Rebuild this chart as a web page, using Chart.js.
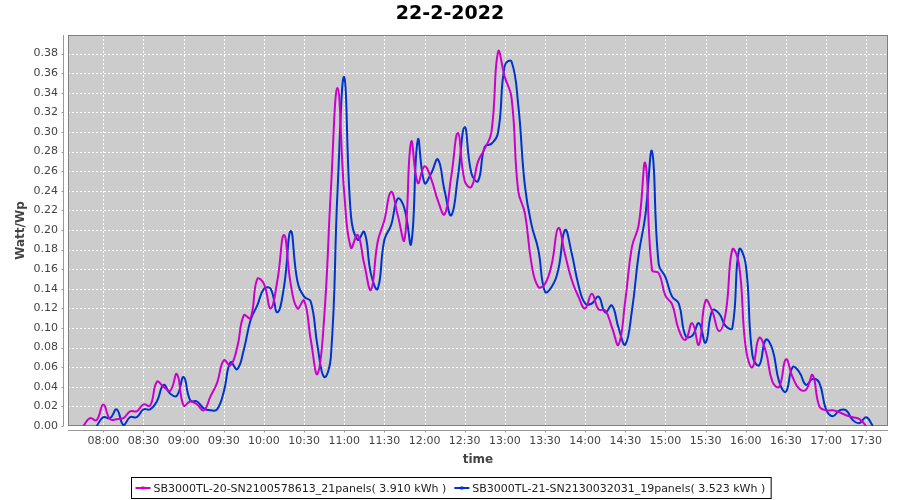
<!DOCTYPE html>
<html><head><meta charset="utf-8">
<script src="https://cdn.jsdelivr.net/npm/chart.js@4"></script>
<style>html,body{margin:0;padding:0;background:#fff}#wrap{width:900px;height:500px}</style>
</head><body><div id="wrap"><canvas id="c" width="900" height="500"></canvas></div>
<script>
const chartTitle = '22-2-2022';
const xAxisTitle = 'time';
const yAxisTitle = 'Watt/Wp';
const seriesNames = [
  'SB3000TL-20-SN2100578613_21panels( 3.910 kWh )',
  'SB3000TL-21-SN2130032031_19panels( 3.523 kWh )'
];
const times = [
 '07:45','07:50','07:55','08:00','08:05','08:10','08:15','08:20','08:25','08:30','08:35','08:40','08:45','08:50','08:55',
 '09:00','09:05','09:10','09:15','09:20','09:25','09:30','09:35','09:40','09:45','09:50','09:55',
 '10:00','10:05','10:10','10:15','10:20','10:25','10:30','10:35','10:40','10:45','10:50','10:55',
 '11:00','11:05','11:10','11:15','11:20','11:25','11:30','11:35','11:40','11:45','11:50','11:55',
 '12:00','12:05','12:10','12:15','12:20','12:25','12:30','12:35','12:40','12:45','12:50','12:55',
 '13:00','13:05','13:10','13:15','13:20','13:25','13:30','13:35','13:40','13:45','13:50','13:55',
 '14:00','14:05','14:10','14:15','14:20','14:25','14:30','14:35','14:40','14:45','14:50','14:55',
 '15:00','15:05','15:10','15:15','15:20','15:25','15:30','15:35','15:40','15:45','15:50','15:55',
 '16:00','16:05','16:10','16:15','16:20','16:25','16:30','16:35','16:40','16:45','16:50','16:55',
 '17:00','17:05','17:10','17:15','17:20','17:25','17:30','17:35'
];
const series20 = [
 0.000,0.008,0.006,0.022,0.007,0.007,0.008,0.015,0.015,0.022,0.021,0.045,0.040,0.036,0.053,
 0.021,0.025,0.022,0.016,0.030,0.044,0.067,0.062,0.080,0.113,0.110,0.150,
 0.145,0.120,0.148,0.195,0.145,0.120,0.128,0.088,0.053,0.110,0.240,0.345,
 0.238,0.182,0.195,0.165,0.139,0.188,0.210,0.239,0.215,0.190,0.290,0.248,
 0.265,0.252,0.230,0.216,0.255,0.299,0.250,0.244,0.270,0.283,0.300,0.382,
 0.356,0.335,0.240,0.217,0.165,0.142,0.145,0.165,0.202,0.175,0.149,0.132,
 0.120,0.135,0.119,0.118,0.101,0.083,0.128,0.183,0.205,0.268,0.159,0.156,
 0.133,0.124,0.098,0.088,0.105,0.083,0.128,0.117,0.097,0.115,0.180,0.165,
 0.080,0.060,0.090,0.076,0.045,0.040,0.068,0.050,0.038,0.037,0.052,0.020,
 0.016,0.016,0.014,0.011,0.009,0.007,0.000,null
];
const series21 = [
 null,null,0.000,0.009,0.008,0.017,0.001,0.009,0.009,0.017,0.017,0.025,0.042,0.033,0.031,
 0.050,0.026,0.025,0.018,0.016,0.017,0.035,0.065,0.058,0.078,0.108,0.123,
 0.140,0.140,0.116,0.142,0.199,0.148,0.132,0.127,0.082,0.050,0.070,0.240,
 0.356,0.215,0.190,0.198,0.155,0.140,0.190,0.205,0.232,0.222,0.186,0.292,
 0.248,0.258,0.272,0.240,0.215,0.255,0.305,0.258,0.250,0.285,0.288,0.300,
 0.368,0.372,0.328,0.245,0.205,0.180,0.137,0.142,0.160,0.200,0.176,0.144,
 0.125,0.125,0.132,0.116,0.123,0.100,0.083,0.118,0.175,0.215,0.280,0.165,
 0.152,0.132,0.125,0.092,0.092,0.105,0.085,0.118,0.115,0.102,0.100,0.180,
 0.165,0.072,0.062,0.088,0.078,0.045,0.035,0.060,0.055,0.042,0.048,0.044,
 0.017,0.010,0.016,0.016,0.006,0.003,0.009,0.000
];
const xTickLabels = ['08:00','08:30','09:00','09:30','10:00','10:30','11:00','11:30','12:00','12:30',
 '13:00','13:30','14:00','14:30','15:00','15:30','16:00','16:30','17:00','17:30'];
const yTickLabels = ['0.00','0.02','0.04','0.06','0.08','0.10','0.12','0.14','0.16','0.18','0.20',
 '0.22','0.24','0.26','0.28','0.30','0.32','0.34','0.36','0.38'];
const seriesColors = ['#cc00cc', '#0033cc'];
const xRange = ['07:33.6', '17:46.3'];
const yMax = 0.399;

function toMin(s){ const p = s.split(':'); return (+p[0])*60 + parseFloat(p[1]); }
function toHHMM(m){ const h = Math.floor(m/60), mm = Math.round(m%60); return String(h).padStart(2,'0')+':'+String(mm).padStart(2,'0'); }
const xTickValues = xTickLabels.map(toMin);
const yTickValues = yTickLabels.map(parseFloat);
const FONT = '"DejaVu Sans", sans-serif';

const decor = {
  id: 'decor',
  beforeDraw(chart){
    const {ctx, chartArea:a, scales:{x, y}} = chart;
    ctx.save();
    ctx.fillStyle = '#ffffff'; ctx.fillRect(0,0,chart.width,chart.height);
    ctx.fillStyle = '#cccccc'; ctx.fillRect(a.left, a.top, a.right-a.left, a.bottom-a.top);
    ctx.strokeStyle = '#ffffff'; ctx.lineWidth = 1; ctx.setLineDash([2,2]);
    ctx.beginPath();
    xTickValues.forEach(v=>{ const p = Math.round(x.getPixelForValue(v))+0.5; ctx.moveTo(p,a.top); ctx.lineTo(p,a.bottom); });
    yTickValues.forEach(v=>{ const p = Math.round(y.getPixelForValue(v))+0.5; ctx.moveTo(a.left,p); ctx.lineTo(a.right,p); });
    ctx.stroke();
    ctx.setLineDash([]);
    ctx.strokeStyle = '#808080';
    ctx.strokeRect(a.left+0.5, a.top+0.5, a.right-a.left-1, a.bottom-a.top-1);
    ctx.strokeStyle = '#999999';
    ctx.beginPath();
    const ax = a.bottom + 4.5;
    ctx.moveTo(a.left, ax); ctx.lineTo(a.right, ax);
    xTickValues.forEach(v=>{ const p = Math.round(x.getPixelForValue(v))+0.5; ctx.moveTo(p,ax); ctx.lineTo(p,ax+2); });
    const ay = a.left - 4.5;
    ctx.moveTo(ay, a.top); ctx.lineTo(ay, a.bottom);
    yTickValues.forEach(v=>{ const p = Math.round(y.getPixelForValue(v))+0.5; ctx.moveTo(ay,p); ctx.lineTo(ay-2,p); });
    ctx.stroke();
    ctx.restore();
  },
  afterDraw(chart){
    const {ctx} = chart;
    ctx.save();
    ctx.fillStyle = '#000';
    ctx.font = 'bold 19px ' + FONT;
    ctx.textAlign = 'center'; ctx.textBaseline = 'middle';
    ctx.fillText(chartTitle, 450, 14);
    ctx.font = '11px ' + FONT;
    const ws = seriesNames.map(s=>ctx.measureText(s).width);
    const pad = 4, lw = 15, gap = 3, ig = 6;
    const total = pad + lw + gap + ws[0] + ig + lw + gap + ws[1] + pad + 4;
    const left = Math.round(451 - total/2) + 0.5;
    const top = 477.5, h = 21;
    ctx.strokeStyle = '#000'; ctx.lineWidth = 1;
    ctx.strokeRect(left, top, total, h);
    let cx = left + pad;
    const cy = top + h/2;
    ctx.textAlign = 'left';
    seriesNames.forEach((s,i)=>{
      ctx.strokeStyle = seriesColors[i]; ctx.lineWidth = 2;
      ctx.beginPath(); ctx.moveTo(cx, cy); ctx.lineTo(cx+lw, cy); ctx.stroke();
      ctx.fillStyle = seriesColors[i]; ctx.fillRect(cx+lw/2-1.5, cy-1.5, 3, 3);
      ctx.fillStyle = '#222';
      ctx.fillText(s, cx+lw+gap, cy+1);
      cx += lw + gap + ws[i] + ig + 2;
    });
    ctx.restore();
  }
};

const mk = (vals) => times.map((t,i)=>({x: toMin(t), y: vals[i]}));

new Chart(document.getElementById('c'), {
  type: 'line',
  data: {
    datasets: [
      {label: seriesNames[0], data: mk(series20), borderColor: seriesColors[0], backgroundColor: seriesColors[0], borderWidth: 2, pointRadius: 0, tension: 0.45, spanGaps: false},
      {label: seriesNames[1], data: mk(series21), borderColor: seriesColors[1], backgroundColor: seriesColors[1], borderWidth: 2, pointRadius: 0, tension: 0.45, spanGaps: false}
    ]
  },
  options: {
    responsive: false, animation: false, devicePixelRatio: 1,
    layout: {padding: {top: 35, right: 12, bottom: 30, left: 0}},
    plugins: {legend: {display: false}, title: {display: false}, tooltip: {enabled: false}},
    scales: {
      x: {
        type: 'linear', min: toMin(xRange[0]), max: toMin(xRange[1]),
        grid: {display: false, drawTicks: false}, border: {display: false},
        afterFit(s){ s.height = 44; },
        afterBuildTicks(s){ s.ticks = xTickValues.map(v=>({value: v})); },
        ticks: {autoSkip: false, maxRotation: 0, padding: 9, color: '#444', font: {family: FONT, size: 11},
          callback: (v)=> toHHMM(v)},
        title: {display: true, text: xAxisTitle, color: '#444', font: {family: FONT, size: 12, weight: 'bold'}, padding: {top: 0, bottom: 3}}
      },
      y: {
        type: 'linear', min: 0, max: yMax,
        grid: {display: false, drawTicks: false}, border: {display: false},
        afterFit(s){ s.width = 68; },
        afterBuildTicks(s){ s.ticks = yTickValues.map(v=>({value: v})); },
        ticks: {autoSkip: false, padding: 10, color: '#444', font: {family: FONT, size: 11},
          callback: (v)=> v.toFixed(2)},
        title: {display: true, text: yAxisTitle, color: '#444', font: {family: FONT, size: 12, weight: 'bold'}, padding: {top: 14, bottom: 0}}
      }
    }
  },
  plugins: [decor]
});
</script>
</body></html>
